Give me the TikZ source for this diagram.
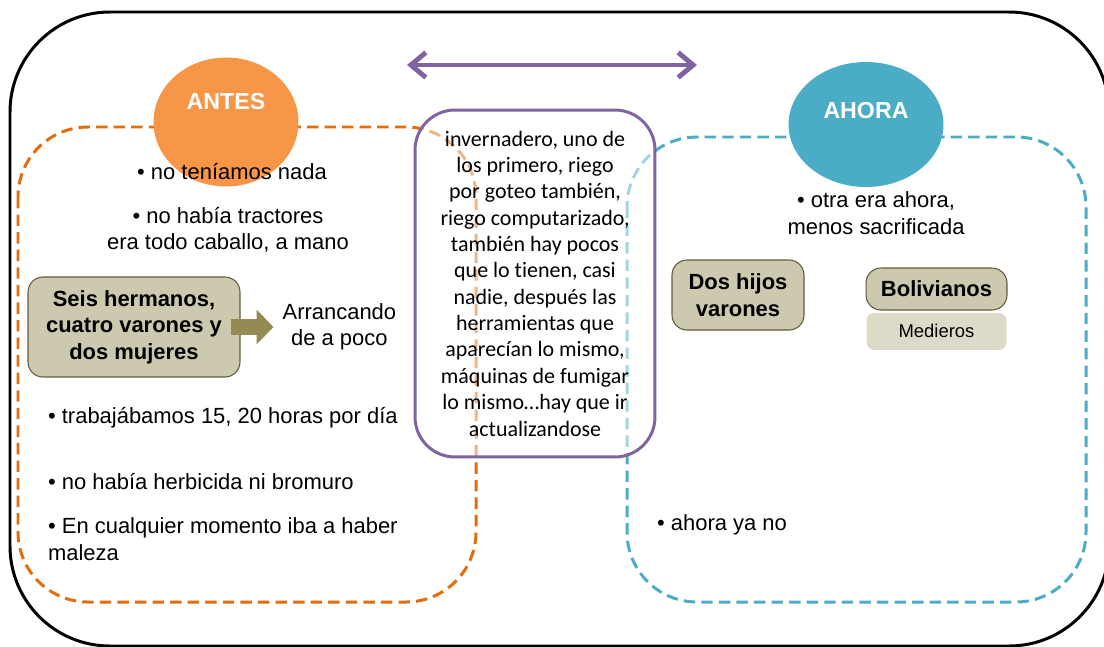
\documentclass[tikz,border=0pt]{standalone}
\usepackage{fontspec}
\setmainfont{Liberation Sans}
\newfontfamily\calibrifont[Ligatures=NoCommon]{Carlito}
\usepackage{xcolor}
\usetikzlibrary{arrows.meta,positioning,shapes.geometric}
\definecolor{antesorange}{HTML}{F79646}
\definecolor{antesdash}{HTML}{E46C0A}
\definecolor{ahorablue}{HTML}{4BACC6}
\definecolor{midpurple}{HTML}{8064A2}
\definecolor{boxtan}{HTML}{CDC9AE}
\definecolor{boxedge}{HTML}{5F5B3D}
\definecolor{boxlight}{HTML}{DDDBC8}
\definecolor{arrowolive}{HTML}{948A54}
\tikzset{
  frame/.style={draw=black,line width=1.7pt,rounded corners=2cm},
  dashframe/.style={line width=1.7pt,dash pattern=on 6.5pt off 3.5pt,rounded corners=1.4cm},
  bubble/.style={ellipse,draw=none,inner sep=0pt},
  bubbletext/.style={text=white,font=\fontsize{13.2}{15}\selectfont\bfseries},
  bullettext/.style={align=center,inner sep=1pt,font=\fontsize{12.5}{15}\selectfont},
  tanbox/.style={draw=boxedge,fill=boxtan,rounded corners=0.3cm,line width=0.6pt,align=center,inner sep=1pt,font=\fontsize{12.5}{15}\selectfont\bfseries},
  midbox/.style={draw=midpurple,line width=1.7pt,fill=white,fill opacity=0.5,text opacity=1,rounded corners=0.8cm,align=center,font=\calibrifont\fontsize{12.5}{15}\selectfont},
  linkarrow/.style={draw=midpurple,line width=2.8pt,{Straight Barb[length=0.3cm,width=0.5cm]}-{Straight Barb[length=0.3cm,width=0.5cm]}},
  blockarrow/.style={draw=arrowolive,line width=0.32cm,-{Triangle[length=0.34cm,width=0.68cm]}}
}
\begin{document}
\begin{tikzpicture}[x=0.02cm,y=-0.02cm]
\useasboundingbox (0,0) rectangle (1104,646);
% outer frame and the two dashed areas
\draw[frame] (10,12) rectangle (1109,646);
\draw[dashframe,draw=antesdash] (18,127) rectangle (476,602);
\draw[dashframe,draw=ahorablue] (627,137) rectangle (1086,602);
% headings
\node[bubble,fill=antesorange,minimum width=2.9cm,minimum height=2.58cm,
  label={[bubbletext,yshift=0.4cm]center:ANTES}] (antes) at (226,122) {};
\node[bubble,fill=ahorablue,minimum width=3.1cm,minimum height=2.5cm,
  label={[bubbletext,yshift=0.28cm]center:AHORA}] (ahora) at (866,124.5) {};
% middle box
\node[midbox,minimum width=4.8cm,minimum height=6.94cm] (mid) at (535,283.5)
  {invernadero, uno de\\los primero, riego\\por goteo también,\\riego computarizado,\\también hay pocos\\que lo tienen,\ casi\\nadie, después las\\herramientas que\\aparecían lo mismo,\\máquinas de fumigar\\lo mismo…hay que ir\\actualizandose};
\coordinate (linkL) at (407,65);
\coordinate (linkR) at (697,65);
\draw[linkarrow] (linkL) -- (linkR);
% antes
\node[bullettext] (nada) at (232,172) {• no teníamos nada};
\node[bullettext] (tractores) at (228,229.5) {• no había tractores\\era todo caballo, a mano};
\node[tanbox,minimum width=4.24cm,minimum height=2cm] (seis) at (134,327) {Seis hermanos,\\cuatro varones y\\dos mujeres};
\node[bullettext,right=0.8cm of seis] (arranc) {Arrancando\\de a poco};
\draw[blockarrow,shorten <=-0.2cm,shorten >=0.14cm] (seis.east) -- (arranc.west);
\node[bullettext,anchor=west] (horas) at (46,418) {• trabajábamos 15, 20 horas por día};
\node[bullettext,anchor=west] (herbic) at (46,482) {• no había herbicida ni bromuro};
\node[bullettext,anchor=west,align=left] (maleza) at (46,539) {• En cualquier momento iba a haber\\maleza};
% ahora
\node[bullettext] (otraera) at (876,213) {• otra era ahora,\\menos sacrificada};
\node[tanbox,minimum width=2.64cm,minimum height=1.4cm] (hijos) at (738,295) {Dos hijos\\varones};
\node[tanbox,minimum width=2.82cm,minimum height=0.84cm] (boliv) at (936.5,289) {Bolivianos};
\node[fill=boxlight,rounded corners=0.15cm,minimum width=2.8cm,minimum height=0.74cm,
  font=\fontsize{10.5}{12}\selectfont,below=0.04cm of boliv] (medieros) {Medieros};
\node[bullettext,anchor=west] (yano) at (655,525) {• ahora ya no};
\end{tikzpicture}
\end{document}
